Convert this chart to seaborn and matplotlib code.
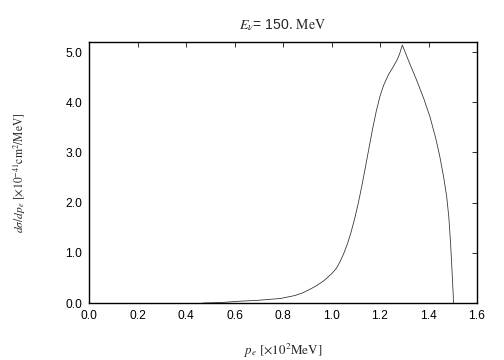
import matplotlib
matplotlib.use("Agg")
import matplotlib.pyplot as plt
import seaborn as sns
import pandas as pd

# data
pe = [0.47, 0.55, 0.60, 0.70, 0.79, 0.85, 0.88, 0.91, 0.94, 0.97, 1.00,
      1.02, 1.035, 1.05, 1.065, 1.08, 1.095, 1.11, 1.125, 1.14, 1.155,
      1.17, 1.185, 1.20, 1.215, 1.235, 1.255, 1.27, 1.28, 1.292, 1.32,
      1.351, 1.38, 1.406, 1.43, 1.447, 1.462, 1.475, 1.484, 1.491, 1.497,
      1.502, 1.503]
dsig = [0.0, 0.01, 0.03, 0.055, 0.09, 0.15, 0.20, 0.27, 0.35, 0.45, 0.58,
        0.69, 0.82, 0.98, 1.17, 1.40, 1.67, 1.98, 2.33, 2.71, 3.10,
        3.48, 3.83, 4.12, 4.34, 4.55, 4.71, 4.84, 4.95, 5.14, 4.80,
        4.44, 4.08, 3.71, 3.28, 2.91, 2.52, 2.12, 1.70, 1.19, 0.65,
        0.16, 0.0]
xticks = [0.0, 0.2, 0.4, 0.6, 0.8, 1.0, 1.2, 1.4, 1.6]
yticks = [0.0, 1.0, 2.0, 3.0, 4.0, 5.0]

sns.set_style("white")
plt.rcParams['font.family'] = ['Liberation Sans', 'DejaVu Sans']
plt.rcParams['mathtext.fontset'] = 'stix'

df = pd.DataFrame({"pe": pe, "dsig": dsig})
fig = plt.figure(figsize=(7, 5), dpi=72)
ax = fig.add_axes([89/504, 1-303/360, (477-89)/504, (303-42)/360])
sns.lineplot(data=df, x="pe", y="dsig", ax=ax, color="#333333", linewidth=0.8)

ax.set_xlim(0, 1.6)
ax.set_ylim(0, 5.2)
ax.set_xticks(xticks)
ax.set_yticks(yticks)
ax.set_xticklabels([f"{v:.1f}" for v in xticks])
ax.set_yticklabels([f"{v:.1f}" for v in yticks])
ax.tick_params(direction="in", length=5, width=0.8, top=True, right=True,
               labelsize=12, pad=7, colors="black")
for s in ax.spines.values():
    s.set_linewidth(1.4)
    s.set_color("black")

ax.set_xlabel(r"$p_e\ [\times10^{2}\mathrm{MeV}]$", fontsize=13, labelpad=20)
ax.set_ylabel(r"$d\sigma/dp_e\ [\times10^{-41}\mathrm{cm}^{2}\mathrm{/MeV}]$",
              fontsize=11.5, labelpad=37)
ax.set_title(r"$E_\nu$= 150. $\mathrm{MeV}$", fontsize=14, pad=13)

fig.savefig("out.png", dpi=72)
